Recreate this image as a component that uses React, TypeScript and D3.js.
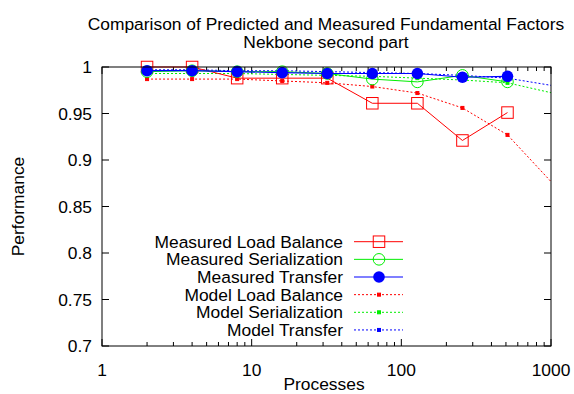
import React from "react";
import * as d3 from "d3";

const W = 574;
const H = 394;
const M = { left: 102, right: 551, top: 67, bottom: 346 };

const procs = [2, 4, 8, 16, 32, 64, 128, 256, 512];
const measuredLoadBalance = [1.0, 1.0, 0.988, 0.988, 0.988, 0.961, 0.961, 0.921, 0.951];
const measuredSerialization = [0.995, 0.996, 0.995, 0.995, 0.993, 0.987, 0.984, 0.991, 0.984];
const measuredTransfer = [0.996, 0.996, 0.995, 0.994, 0.993, 0.993, 0.993, 0.989, 0.99];

const modelProcs = [2, 4, 8, 16, 32, 64, 128, 256, 512, 1024];
const modelLoadBalance = [0.987, 0.987, 0.987, 0.985, 0.983, 0.979, 0.972, 0.956, 0.927, 0.875];
const modelSerialization = [0.993, 0.993, 0.993, 0.992, 0.991, 0.99, 0.988, 0.986, 0.983, 0.972];
const modelTransfer = [0.997, 0.997, 0.996, 0.996, 0.995, 0.994, 0.993, 0.991, 0.988, 0.98];

const xTicks = [1, 10, 100, 1000];
const yTicks = [0.7, 0.75, 0.8, 0.85, 0.9, 0.95, 1];

const RED = "#ff0000";
const GREEN = "#00ee00";
const BLUE = "#0000ff";

const FONT = "'Liberation Sans', Arial, sans-serif";
const FS = 17.4;

export default function App() {
  const x = d3.scaleLog().domain([1, 1000]).range([M.left, M.right]);
  const y = d3.scaleLinear().domain([0.7, 1]).range([M.bottom, M.top]);

  const line = (xs: number[], ys: number[]) =>
    d3.line<number>().x((_, i) => x(xs[i])).y((d) => y(d))(ys) || "";

  const minor: number[] = [];
  for (let dec = 1; dec < 1000; dec *= 10) {
    for (let k = 2; k <= 9; k++) minor.push(dec * k);
  }

  const square = (cx: number, cy: number, s: number, color: string, fill = "none") => (
    <rect x={cx - s / 2} y={cy - s / 2} width={s} height={s} fill={fill} stroke={color} strokeWidth={1} />
  );

  const legend = [
    { label: "Measured Load Balance", color: RED, dash: undefined, marker: "sq", width: 1 },
    { label: "Measured Serialization", color: GREEN, dash: undefined, marker: "circ", width: 1 },
    { label: "Measured Transfer", color: BLUE, dash: undefined, marker: "dot", width: 1.2 },
    { label: "Model Load Balance", color: RED, dash: "2,2", marker: "small", width: 1 },
    { label: "Model Serialization", color: GREEN, dash: "2,2", marker: "small", width: 1 },
    { label: "Model Transfer", color: BLUE, dash: "2,2", marker: "small", width: 1 },
  ];

  const marker = (kind: string, cx: number, cy: number, color: string, key: string | number) => {
    if (kind === "sq") return <g key={key}>{square(cx, cy, 11.5, color)}</g>;
    if (kind === "circ")
      return <circle key={key} cx={cx} cy={cy} r={5.8} fill="none" stroke={color} strokeWidth={1} />;
    if (kind === "dot") return <circle key={key} cx={cx} cy={cy} r={5.8} fill={color} stroke="none" />;
    return <g key={key}>{square(cx, cy, 3, color, color)}</g>;
  };

  const series = [
    { xs: modelProcs, ys: modelLoadBalance, ...legend[3], n: 9 },
    { xs: modelProcs, ys: modelSerialization, ...legend[4], n: 9 },
    { xs: modelProcs, ys: modelTransfer, ...legend[5], n: 9 },
    { xs: procs, ys: measuredLoadBalance, ...legend[0], n: 9 },
    { xs: procs, ys: measuredSerialization, ...legend[1], n: 9 },
    { xs: procs, ys: measuredTransfer, ...legend[2], n: 9 },
  ];

  return (
    <svg width={W} height={H} style={{ position: "absolute", left: 0, top: 0, background: "#fff" }}
      fontFamily={FONT}>
      <defs>
        <clipPath id="plotClip">
          <rect x={M.left} y={M.top - 10} width={M.right - M.left} height={M.bottom - M.top + 10} />
        </clipPath>
      </defs>
      <rect width={W} height={H} fill="#fff" />

      <text x={326} y={29.5} textAnchor="middle" fontSize={FS} fill="#000">
        Comparison of Predicted and Measured Fundamental Factors
      </text>
      <text x={326} y={48} textAnchor="middle" fontSize={FS} fill="#000">
        Nekbone second part
      </text>

      {/* ticks */}
      <g stroke="#000" strokeWidth={1}>
        {yTicks.map((t) => (
          <g key={t}>
            <line x1={M.left} x2={M.left + 7} y1={y(t)} y2={y(t)} />
            <line x1={M.right} x2={M.right - 7} y1={y(t)} y2={y(t)} />
          </g>
        ))}
        {xTicks.map((t) => (
          <g key={t}>
            <line x1={x(t)} x2={x(t)} y1={M.bottom} y2={M.bottom - 7} />
            <line x1={x(t)} x2={x(t)} y1={M.top} y2={M.top + 7} />
          </g>
        ))}
        {minor.map((t) => (
          <g key={t}>
            <line x1={x(t)} x2={x(t)} y1={M.bottom} y2={M.bottom - 4} />
            <line x1={x(t)} x2={x(t)} y1={M.top} y2={M.top + 4} />
          </g>
        ))}
      </g>

      <g fontSize={FS} fill="#000">
        {yTicks.map((t) => (
          <text key={t} x={M.left - 10} y={y(t) + 6} textAnchor="end">
            {t === 1 ? "1" : String(t)}
          </text>
        ))}
        {xTicks.map((t) => (
          <text key={t} x={x(t)} y={376} textAnchor="middle">
            {t}
          </text>
        ))}
        <text x={324} y={390} textAnchor="middle">Processes</text>
        <text transform={`translate(24,${(M.top + M.bottom) / 2}) rotate(-90)`} textAnchor="middle">
          Performance
        </text>
      </g>

      {/* legend */}
      <g fontSize={FS} fill="#000">
        {legend.map((l, i) => {
          const ly = 241.7 + i * 17.65;
          return (
            <g key={l.label}>
              <text x={343} y={ly + 6} textAnchor="end">{l.label}</text>
              <line x1={354} x2={403} y1={ly} y2={ly} stroke={l.color} strokeWidth={l.width}
                strokeDasharray={l.dash} />
              {marker(l.marker, 379, ly, l.color, "m")}
            </g>
          );
        })}
      </g>

      {/* data */}
      <g clipPath="url(#plotClip)">
        {series.map((s) => (
          <g key={s.label}>
            <path d={line(s.xs, s.ys)} fill="none" stroke={s.color} strokeWidth={s.width}
              strokeDasharray={s.dash} />
            {s.ys.slice(0, s.n).map((v, i) => marker(s.marker, x(s.xs[i]), y(v), s.color, i))}
          </g>
        ))}
      </g>

      <rect x={M.left} y={M.top} width={M.right - M.left} height={M.bottom - M.top} fill="none"
        stroke="#000" strokeWidth={1} />
    </svg>
  );
}
